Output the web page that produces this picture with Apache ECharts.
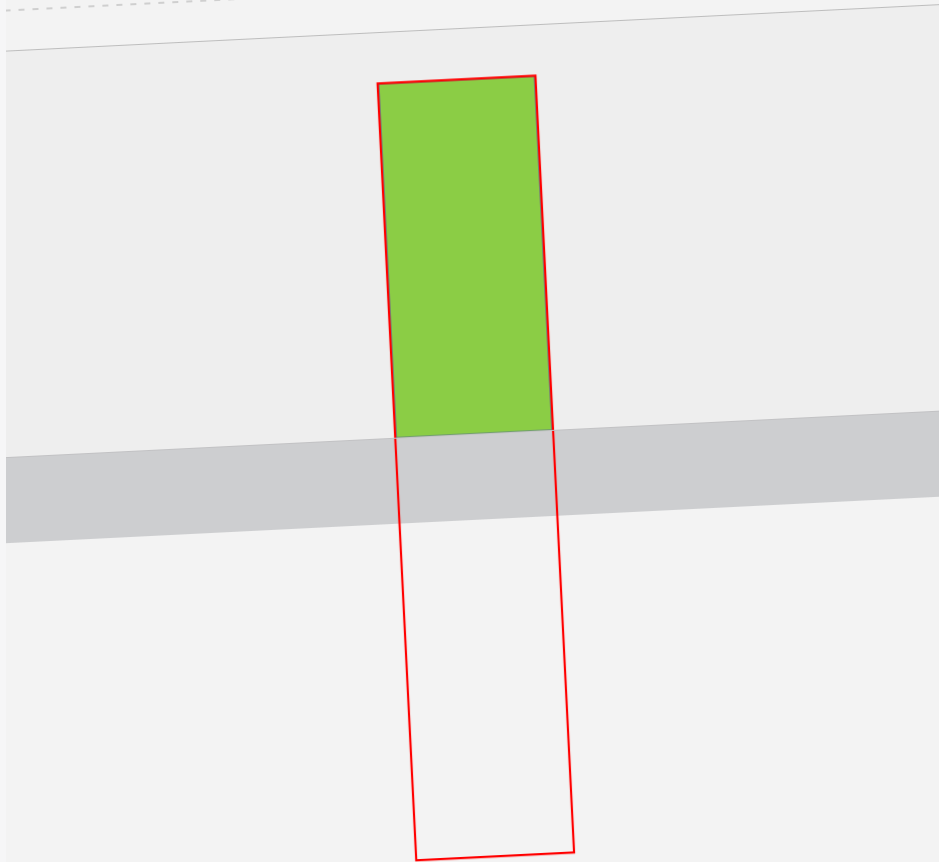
<!DOCTYPE html>
<html>
<head>
<meta charset="utf-8">
<script src="https://cdn.jsdelivr.net/npm/echarts@6/dist/echarts.min.js"></script>
<style>
  html, body { margin: 0; padding: 0; background: #f6f6f7; width: 939px; height: 862px; overflow: hidden; }
  #wrap { position: absolute; left: 6px; top: 0; width: 933px; height: 862px; overflow: hidden; background: #f3f3f3; }
  #chart { position: absolute; left: -86px; top: -89px; width: 1100px; height: 1040px;
           transform: rotate(-2.85deg); transform-origin: 550px 520px; }
</style>
</head>
<body>
<div id="wrap"><div id="chart"></div></div>
<script>
// ---- data ----
const categories = ['A'];
const barValues = [87.5];        // green bar (from 0)
const outlineTop = [87.5];       // red outlined range, top value
const outlineBottom = [-104];    // red outlined range, bottom value
const axisMin = -21;
const axisMax = 110;
const panelRange = [0, 100];     // light panel
const bandRange = [-21, 0];      // grey band
const dottedLevel = 110;         // dotted guide line
const panelTopLevel = 100;       // solid guide line
const zeroLevel = 0;             // band top edge

const chart = echarts.init(document.getElementById('chart'), null, { renderer: 'canvas' });

const outlineData = categories.map((c, i) => [i, outlineTop[i], outlineBottom[i]]);

chart.setOption({
  backgroundColor: 'transparent',
  animation: false,
  grid: { left: 8, right: 0, top: 77, bottom: 431, show: false },
  xAxis: { type: 'category', data: categories, show: false },
  yAxis: { type: 'value', min: axisMin, max: axisMax, show: false, splitLine: { show: false } },
  series: [
    {
      name: 'bg',
      type: 'line',
      data: [],
      z: 1,
      silent: true,
      symbol: 'none',
      markArea: {
        silent: true,
        data: [
          [{ yAxis: panelRange[0], itemStyle: { color: '#eeeeee' } }, { yAxis: panelRange[1] }],
          [{ yAxis: bandRange[0], itemStyle: { color: '#cdced0' } }, { yAxis: bandRange[1] }]
        ]
      },
      markLine: {
        silent: true,
        symbol: 'none',
        label: { show: false },
        data: [
          { yAxis: panelTopLevel, lineStyle: { color: '#bdbdbd', width: 1.2, type: 'solid' } },
          { yAxis: zeroLevel, lineStyle: { color: '#c2c2c4', width: 1, type: 'solid' } },
          { yAxis: dottedLevel, lineStyle: { color: '#cfcfcf', width: 2, type: [6, 8] } }
        ]
      }
    },
    {
      name: 'value',
      type: 'bar',
      data: barValues,
      barWidth: 157,
      z: 2,
      itemStyle: { color: '#8bcd45', borderColor: '#5a7690', borderWidth: 1.2 }
    },
    {
      name: 'range',
      type: 'custom',
      z: 3,
      clip: false,
      data: outlineData,
      encode: { x: 0, y: [1, 2] },
      renderItem: function (params, api) {
        const top = api.coord([api.value(0), api.value(1)]);
        const bot = api.coord([api.value(0), api.value(2)]);
        const w = 158;
        return {
          type: 'rect',
          shape: { x: top[0] - w / 2, y: top[1], width: w, height: bot[1] - top[1] },
          style: { fill: 'none', stroke: '#ff0000', lineWidth: 2.2 }
        };
      }
    }
  ]
});
</script>
</body>
</html>
